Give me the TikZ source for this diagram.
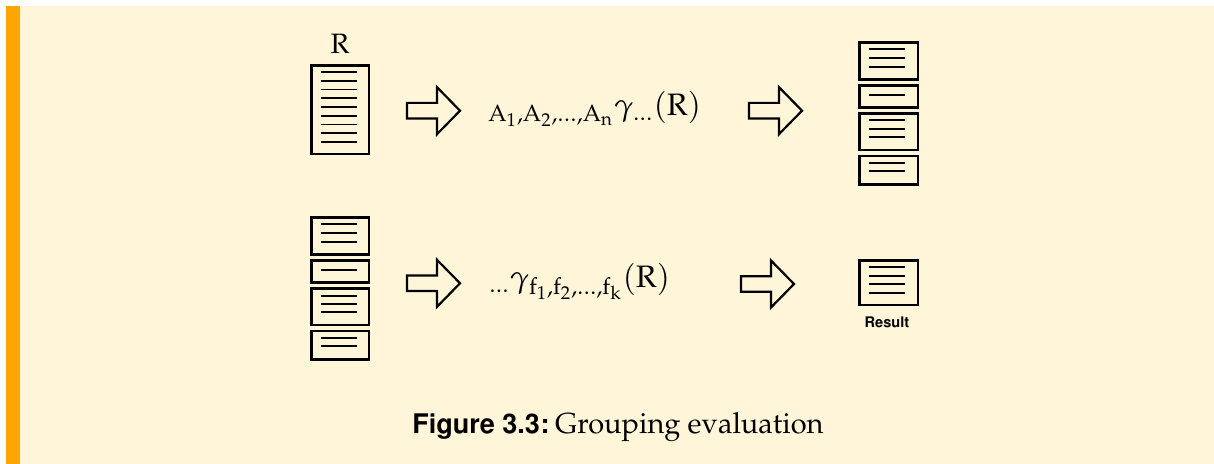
\documentclass[tikz,border=0pt]{standalone}
\usepackage[T1]{fontenc}
\usepackage{mathpazo}
\usetikzlibrary{calc}
\definecolor{cream}{RGB}{255,246,217}
\definecolor{barorange}{RGB}{255,165,0}
\tikzset{
  docbox/.style={draw=black, line width=1.3pt, fill=none, inner sep=0pt, anchor=north west},
  txtline/.style={line width=0.85pt, black},
  blockarr/.style={draw=black, line width=1.1pt, fill=cream, line join=miter},
  mathlbl/.style={inner sep=0pt, font=\fontsize{15.5}{18}\selectfont},
  rlblstyle/.style={inner sep=0pt, font=\fontsize{14}{16}\selectfont},
  sanslbl/.style={inner sep=0pt, font=\fontfamily{phv}\fontsize{7.3}{8}\selectfont\bfseries},
  pics/blockarrow/.style={code={
    \draw[blockarr] (0,-7.8) -- (30,-7.8) -- (30,-23.5) -- (53,0) -- (30,23.5) -- (30,7.8) -- (0,7.8) -- cycle;
  }}
}
% name, x, y, w, h  (outer edges in px)
\newcommand{\docw}[5]{%
  \node[docbox, minimum width=(#4-2.6)*0.5pt, minimum height=(#5-2.6)*0.5pt] (#1) at (#2+1.3,#3+1.3) {};}
\begin{document}
\begin{tikzpicture}[x=0.5pt,y=-0.5pt]
\useasboundingbox (0,0) rectangle (1214,464);
\fill[white] (0,0) rectangle (1214,464);
\fill[cream] (6,6) rectangle (1214,464);
\fill[barorange] (6,6) rectangle (20,464);

% ---- top row ----
\node[rlblstyle, anchor=base] (rlbl) at (340,54) {$\mathrm{R}$};
\docw{rel}{309}{63}{60}{91}
\foreach \yy in {72.3,81,89.6,98.3,107,115.7,124.4,133.1,141.8}
  \draw[txtline] (321,\yy) -- (357,\yy);

\pic at (407,110.7) {blockarrow};
\node[mathlbl, anchor=base west] (f1) at (488,116) {${}_{\mathrm{A}_1,\mathrm{A}_2,\ldots,\mathrm{A}_\mathrm{n}}\gamma_{\ldots}(\mathrm{R})$};
\pic at (749,110.7) {blockarrow};

\docw{ga}{857}{40}{61}{39.3}
\docw{gb}{857}{82.7}{61}{24.6}
\docw{gc}{857}{110.7}{61}{39.3}
\docw{gd}{857}{153.3}{61}{31}
\foreach \yy in {49,58,67,95,120,128.7,137.3,163.3,171.3}
  \draw[txtline] (869,\yy) -- (905,\yy);

% ---- bottom row ----
\docw{ha}{309}{215}{60}{39.3}
\docw{hb}{309}{257.7}{60}{24.6}
\docw{hc}{309}{285.7}{60}{39.3}
\docw{hd}{309}{328.3}{60}{31}
\foreach \yy in {224.3,233.3,242.3,270.3,295.7,304.3,312.3,338.3,346.3}
  \draw[txtline] (321,\yy) -- (357,\yy);

\pic at (407,283.3) {blockarrow};
\node[mathlbl, anchor=base west] (f2) at (489,288) {${}_{\ldots}\gamma_{\mathrm{f}_1,\mathrm{f}_2,\ldots,\mathrm{f}_\mathrm{k}}(\mathrm{R})$};
\pic at (741,284) {blockarrow};

\docw{res}{857}{257.7}{61}{47.3}
\foreach \yy in {266.7,275.7,284,292.7}
  \draw[txtline] (869,\yy) -- (905,\yy);
\node[sanslbl] (reslbl) at (887,322) {Result};

% ---- caption ----
\node[inner sep=0pt, anchor=base] (cap) at (618,433) {{\fontfamily{phv}\fontsize{13.5}{15}\selectfont\bfseries Figure 3.3:} \fontsize{14.5}{16}\selectfont Grouping evaluation};
\end{tikzpicture}
\end{document}
